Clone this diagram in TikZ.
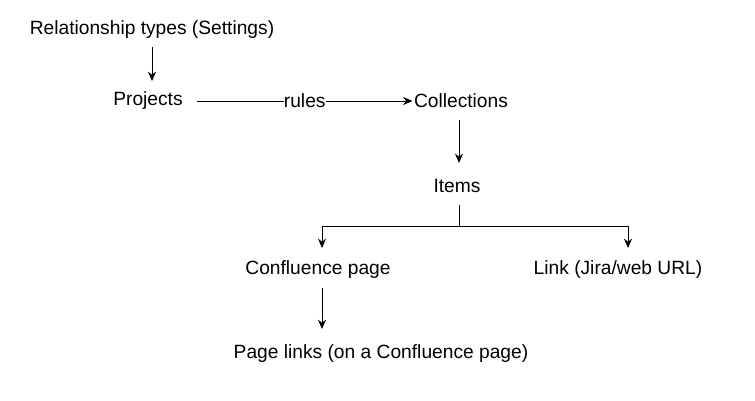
\documentclass[tikz,border=0pt]{standalone}
\usepackage{fontspec}
\setmainfont{Liberation Sans}
\usetikzlibrary{arrows.meta}
\begin{document}
\begin{tikzpicture}[x=0.75pt,y=-0.75pt,
  lbl/.style={font=\fontsize{14.4}{16}\selectfont, inner sep=1pt},
  arr/.style={-{Stealth[length=7pt,width=6pt]}, line width=0.75pt},
  ln/.style={line width=0.75pt}]
\useasboundingbox (0,0) rectangle (755,400);
\node[lbl] (rt) at (152,30) {Relationship types (Settings)};
\node[lbl] (pr) at (148,101) {Projects};
\node[lbl] (co) at (461,101) {Collections};
\node[lbl] (it) at (457,186) {Items};
\node[lbl] (cp) at (318,270) {Confluence page};
\node[lbl] (li) at (618,270) {Link (Jira/web URL)};
\node[lbl] (pl) at (381,354) {Page links (on a Confluence page)};
\coordinate (j) at (459,226);
\draw[arr] (152,47) -- (152,81);
\draw[arr] (197,101) -- node[lbl, fill=white, inner sep=0pt] {rules} (co.west);
\draw[arr] (459,120) -- (459,163);
\draw[ln] (459,205) -- (j);
\draw[arr] (j) -| (322,248);
\draw[arr] (j) -| (628,248);
\draw[arr] (322,288) -- (322,329);
\end{tikzpicture}
\end{document}
